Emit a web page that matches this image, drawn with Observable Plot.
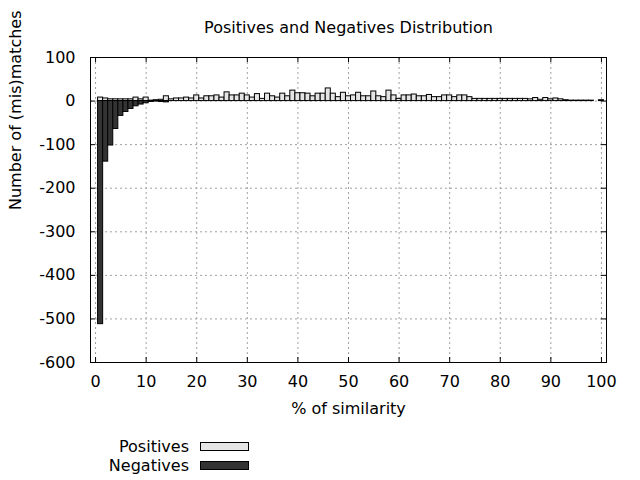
<!DOCTYPE html>
<html>
<head>
<meta charset="utf-8">
<script src="https://cdn.jsdelivr.net/npm/d3@7"></script>
<script src="https://cdn.jsdelivr.net/npm/@observablehq/plot@0.6"></script>
<style>
  html, body { margin: 0; padding: 0; background: #fff; }
  #wrap { width: 640px; height: 480px; overflow: hidden; font-family: "DejaVu Sans", sans-serif; font-size: 16px; color: #000; }
  #legend { margin-top: 5px; }
  .row { display: flex; align-items: center; height: 19px; }
  .lab { width: 189px; text-align: right; }
  .sw { margin-left: 11px; width: 49px; height: 9px; box-sizing: border-box; border: 1px solid #000; }
</style>
</head>
<body>
<div id="wrap"></div>
<script>
const title = "Positives and Negatives Distribution";
const xLabel = "% of similarity";
const yLabel = "Number of (mis)matches";
const seriesNames = ["Positives", "Negatives"];
const seriesColors = ["#e5e5e5", "#333333"];
const xTicks = [0, 10, 20, 30, 40, 50, 60, 70, 80, 90, 100];
const yTicks = [-600, -500, -400, -300, -200, -100, 0, 100];

const similarity = [
  1, 2, 3, 4, 5, 6, 7, 8, 9, 10,
  11, 12, 13, 14, 15, 16, 17, 18, 19, 20,
  21, 22, 23, 24, 25, 26, 27, 28, 29, 30,
  31, 32, 33, 34, 35, 36, 37, 38, 39, 40,
  41, 42, 43, 44, 45, 46, 47, 48, 49, 50,
  51, 52, 53, 54, 55, 56, 57, 58, 59, 60,
  61, 62, 63, 64, 65, 66, 67, 68, 69, 70,
  71, 72, 73, 74, 75, 76, 77, 78, 79, 80,
  81, 82, 83, 84, 85, 86, 87, 88, 89, 90,
  91, 92, 93, 94, 95, 96, 97, 98, 99, 100
];
const positives = [
  8, 6, 4, 4, 4, 4, 4, 8, 4, 8,
  1, 2, 3, 11, 4, 6, 6, 8, 6, 13,
  6, 11, 11, 13, 8, 20, 13, 13, 17, 13,
  8, 16, 5, 17, 11, 8, 17, 11, 24, 18,
  18, 17, 11, 17, 17, 29, 17, 9, 19, 11,
  13, 19, 11, 11, 22, 11, 9, 24, 13, 5,
  13, 13, 15, 11, 11, 14, 9, 9, 13, 13,
  9, 13, 13, 9, 5, 5, 5, 5, 5, 5,
  5, 5, 5, 5, 5, 4, 7, 3, 7, 4,
  6, 4, 2, 1, 1, 1, 1, 1, 0, 2
];
const negatives = [
  -512, -139, -102, -64, -34, -25, -18, -12, -8, -5,
  -2, -1, -2, -3, 0, 0, 0, 0, 0, 0,
  0, 0, 0, 0, 0, 0, 0, 0, 0, 0,
  0, 0, 0, 0, 0, 0, 0, 0, 0, 0,
  0, 0, 0, 0, 0, 0, 0, 0, 0, 0,
  0, 0, 0, 0, 0, 0, 0, 0, 0, 0,
  0, 0, 0, 0, 0, 0, 0, 0, 0, 0,
  0, 0, 0, 0, 0, 0, 0, 0, 0, 0,
  0, 0, 0, 0, 0, 0, 0, 0, 0, 0,
  0, 0, 0, 0, 0, 0, 0, 0, 0, 0
];

const data = similarity.map((s, i) => ({s, pos: positives[i], neg: negatives[i]}));

const W = 640, H = 432, mL = 90, mR = 34, mT = 57, mB = 70;
const innerH = H - mT - mB, innerW = W - mL - mR;
const tickLen = 5;
const gridStyle = {stroke: "#a0a0a0", strokeOpacity: 1, strokeDasharray: "2,3"};

const chart = Plot.plot({
  width: W, height: H,
  marginLeft: mL, marginRight: mR, marginTop: mT, marginBottom: mB,
  style: {fontFamily: "DejaVu Sans", fontSize: "16px", background: "#fff", color: "#000"},
  x: {domain: [-1, 101]},
  y: {domain: [-600, 100]},
  marks: [
    Plot.gridX({ticks: xTicks, ...gridStyle}),
    Plot.gridY({ticks: yTicks, ...gridStyle}),
    Plot.rectY(data.filter(d => d.pos !== 0), {x1: d => d.s - 0.5, x2: d => d.s + 0.5, y: "pos", fill: seriesColors[0], stroke: "#000", strokeWidth: 1}),
    Plot.rectY(data.filter(d => d.neg !== 0), {x1: d => d.s - 0.5, x2: d => d.s + 0.5, y: "neg", fill: seriesColors[1], stroke: "#000", strokeWidth: 1}),
    Plot.tickX(xTicks, {x: d => d, insetTop: innerH - tickLen, stroke: "#000"}),
    Plot.tickX(xTicks, {x: d => d, insetBottom: innerH - tickLen, stroke: "#000"}),
    Plot.tickY(yTicks, {y: d => d, insetRight: innerW - tickLen, stroke: "#000"}),
    Plot.tickY(yTicks, {y: d => d, insetLeft: innerW - tickLen, stroke: "#000"}),
    Plot.axisX({ticks: xTicks, tickSize: 0, tickPadding: 13, tickFormat: d => String(d), label: null}),
    Plot.axisY({ticks: yTicks, tickSize: 0, tickPadding: 15, tickFormat: d => String(d), label: null}),
    Plot.frame({stroke: "#000"}),
    Plot.text([title], {text: d => d, frameAnchor: "top", lineAnchor: "middle", dy: -30, fontSize: 16}),
    Plot.text([xLabel], {text: d => d, frameAnchor: "bottom", lineAnchor: "middle", dy: 46, fontSize: 16}),
    Plot.text([yLabel], {text: d => d, frameAnchor: "left", lineAnchor: "middle", dx: -75, rotate: -90, fontSize: 16})
  ]
});

const wrap = document.getElementById("wrap");
wrap.appendChild(chart);

const legend = document.createElement("div");
legend.id = "legend";
seriesNames.forEach((name, i) => {
  const row = document.createElement("div");
  row.className = "row";
  const lab = document.createElement("span");
  lab.className = "lab";
  lab.textContent = name;
  const sw = document.createElement("span");
  sw.className = "sw";
  sw.style.background = seriesColors[i];
  row.appendChild(lab);
  row.appendChild(sw);
  legend.appendChild(row);
});
wrap.appendChild(legend);
</script>
</body>
</html>
